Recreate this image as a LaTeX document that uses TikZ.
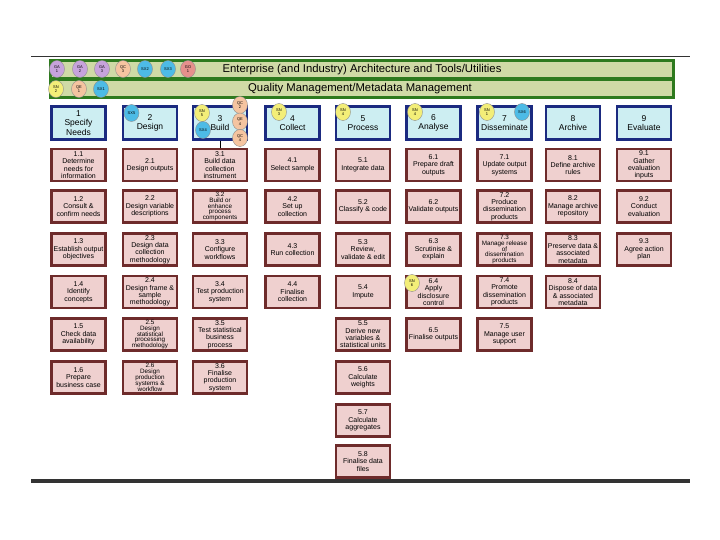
\documentclass[tikz,border=0pt]{standalone}
\usepackage{fontspec}
\setmainfont{Liberation Sans}
\usetikzlibrary{shapes.geometric}
\definecolor{barfill}{HTML}{CFDAA6}
\definecolor{bardraw}{HTML}{2E7A1E}
\definecolor{phfill}{HTML}{CDEEF2}
\definecolor{phdraw}{HTML}{1B2A80}
\definecolor{tkfill}{HTML}{EFD0CF}
\definecolor{tkdraw}{HTML}{6E2B2B}
\definecolor{gacol}{HTML}{C7A3DC}
\definecolor{qccol}{HTML}{F5C4A0}
\definecolor{sxcol}{HTML}{4DBBE6}
\definecolor{gocol}{HTML}{E6908C}
\definecolor{sncol}{HTML}{F3EE78}
\definecolor{rulecol}{HTML}{333333}
\tikzset{
  phase/.style={draw=phdraw, line width=2.5pt, fill=phfill, minimum width=54pt, minimum height=33pt,
    inner sep=0pt, align=center, font=\fontsize{8.5}{9.5}\selectfont},
  task/.style={draw=tkdraw, line width=2.5pt, fill=tkfill, minimum width=54pt, minimum height=32pt,
    inner sep=0pt, align=center, font=\fontsize{7}{7.4}\selectfont},
  tight/.style={font=\fontsize{6.3}{5.9}\selectfont},
  tag/.style={ellipse, draw=black!45, line width=0.4pt, minimum width=15pt, minimum height=17pt,
    inner sep=0pt, align=center, font=\fontsize{4}{4.4}\selectfont},
  ga/.style={tag, fill=gacol}, qc/.style={tag, fill=qccol}, sx/.style={tag, fill=sxcol},
  go/.style={tag, fill=gocol}, sn/.style={tag, fill=sncol},
  bartext/.style={font=\fontsize{11.3}{13}\selectfont, inner sep=0pt}
}
\begin{document}
\begin{tikzpicture}[x=1pt,y=-1pt]
\useasboundingbox (0,0) rectangle (720,540);
% rules
\draw[rulecol, line width=0.8pt] (31,56) -- (690,56);
\draw[rulecol, line width=4pt] (31,481) -- (690,481);
% green bars
\node[draw=bardraw, line width=3pt, fill=barfill, minimum width=623pt, minimum height=18.5pt, inner sep=0pt] (bar1) at (362,69.5) {};
\node[draw=bardraw, line width=3pt, fill=barfill, minimum width=623pt, minimum height=18.5pt, inner sep=0pt] (bar2) at (362,88.5) {};
\node[bartext] (bt1) at (362,69.5) {Enterprise (and Industry) Architecture and Tools/Utilities};
\node[bartext] (bt2) at (360,89) {Quality Management/Metadata Management};
% bar tags
\node[ga] (c1) at (57,69) {GA\\1};
\node[ga] (c2) at (80,69) {GA\\2};
\node[ga] (c3) at (102,69) {GA\\3};
\node[qc] (c4) at (123,69) {QC\\3};
\node[sx] (c5) at (145,69) {SX2};
\node[sx] (c6) at (168,69) {SX3};
\node[go] (c7) at (188,69) {GO\\1};
\node[sn] (d1) at (56,89) {SN\\2};
\node[qc] (d2) at (79,89) {QE\\1};
\node[sx] (d3) at (101,89) {SX1};
% phases
\node[phase] (h1) at (78.5,123) {1\\Specify\\Needs};
\node[phase] (h2) at (150,123) {2\\Design};
\node[phase] (h3) at (220,123) {3\\Build};
\node[phase] (h4) at (292.5,123) {4\\Collect};
\node[phase] (h5) at (363,123) {5\\Process};
\node[phase] (h6) at (433.5,123) {6\\Analyse};
\node[phase] (h7) at (504.5,123) {7\\Disseminate};
\node[phase] (h8) at (573,123) {8\\Archive};
\node[phase] (h9) at (644,123) {9\\Evaluate};
% tasks col 1
\node[task] (t11) at (78.5,165) {1.1\\Determine\\needs for\\information};
\node[task] (t12) at (78.5,206.5) {1.2\\Consult \&\\confirm needs};
\node[task] (t13) at (78.5,249.5) {1.3\\Establish output\\objectives};
\node[task] (t14) at (78.5,292) {1.4\\Identify\\concepts};
\node[task] (t15) at (78.5,334.5) {1.5\\Check data\\availability};
\node[task] (t16) at (78.5,377.5) {1.6\\Prepare\\business case};
% col 2
\node[task] (t21) at (150,165) {2.1\\Design outputs};
\node[task] (t22) at (150,206.5) {2.2\\Design variable\\descriptions};
\node[task] (t23) at (150,249.5) {2.3\\Design data\\collection\\methodology};
\node[task] (t24) at (150,292) {2.4\\Design frame \&\\sample\\methodology};
\node[task, tight] (t25) at (150,334.5) {2.5\\Design\\statistical\\processing\\methodology};
\node[task, tight] (t26) at (150,377.5) {2.6\\Design\\production\\systems \&\\workflow};
% col 3
\node[task] (t31) at (220,165) {3.1\\Build data\\collection\\instrument};
\node[task, tight] (t32) at (220,206.5) {3.2\\Build or\\enhance\\process\\components};
\node[task] (t33) at (220,249.5) {3.3\\Configure\\workflows};
\node[task] (t34) at (220,292) {3.4\\Test production\\system};
\node[task] (t35) at (220,334.5) {3.5\\Test statistical\\business\\process};
\node[task] (t36) at (220,377.5) {3.6\\Finalise\\production\\system};
% col 4
\node[task] (t41) at (292.5,165) {4.1\\Select sample};
\node[task] (t42) at (292.5,206.5) {4.2\\Set up\\collection};
\node[task] (t43) at (292.5,249.5) {4.3\\Run collection};
\node[task] (t44) at (292.5,292) {4.4\\Finalise\\collection};
% col 5
\node[task] (t51) at (363,165) {5.1\\Integrate data};
\node[task] (t52) at (363,206.5) {5.2\\Classify \& code};
\node[task] (t53) at (363,249.5) {5.3\\Review,\\validate \& edit};
\node[task] (t54) at (363,292) {5.4\\Impute};
\node[task] (t55) at (363,334.5) {5.5\\Derive new\\variables \&\\statistical units};
\node[task] (t56) at (363,377.5) {5.6\\Calculate\\weights};
\node[task] (t57) at (363,420.5) {5.7\\Calculate\\aggregates};
\node[task] (t58) at (363,461.5) {5.8\\Finalise data\\files};
% col 6
\node[task] (t61) at (433.5,165) {6.1\\Prepare draft\\outputs};
\node[task] (t62) at (433.5,206.5) {6.2\\Validate outputs};
\node[task] (t63) at (433.5,249.5) {6.3\\Scrutinise \&\\explain};
\node[task] (t64) at (433.5,292) {6.4\\Apply\\disclosure\\control};
\node[task] (t65) at (433.5,334.5) {6.5\\Finalise outputs};
% col 7
\node[task] (t71) at (504.5,165) {7.1\\Update output\\systems};
\node[task] (t72) at (504.5,206.5) {7.2\\Produce\\dissemination\\products};
\node[task, tight] (t73) at (504.5,249.5) {7.3\\Manage release\\of\\dissemination\\products};
\node[task] (t74) at (504.5,292) {7.4\\Promote\\dissemination\\products};
\node[task] (t75) at (504.5,334.5) {7.5\\Manage user\\support};
% col 8
\node[task] (t81) at (573,165) {8.1\\Define archive\\rules};
\node[task] (t82) at (573,206.5) {8.2\\Manage archive\\repository};
\node[task] (t83) at (573,249.5) {8.3\\Preserve data \&\\associated\\metadata};
\node[task] (t84) at (573,292) {8.4\\Dispose of data\\\& associated\\metadata};
% col 9
\node[task] (t91) at (644,165) {9.1\\Gather\\evaluation\\inputs};
\node[task] (t92) at (644,206.5) {9.2\\Conduct\\evaluation};
\node[task] (t93) at (644,249.5) {9.3\\Agree action\\plan};
% connector
\draw[black, line width=0.8pt] (h3.south) -- (t31.north);
% phase tags
\node[sx] (e1) at (131.5,113) {SX5};
\node[sn] (e2) at (202,113) {SN\\5};
\node[sx] (e3) at (203,130) {SX4};
\node[qc] (e4) at (240,105) {QC\\2};
\node[qc] (e5) at (240,121.5) {QE\\4};
\node[qc] (e6) at (240,138) {QC\\4};
\node[sn] (e7) at (279,112) {SN\\3};
\node[sn] (e8) at (343,112) {SN\\4};
\node[sn] (e9) at (415,112) {SN\\4};
\node[sn] (e10) at (487,112) {SN\\1};
\node[sx] (e11) at (522,112) {SX6};
\node[sn] (e12) at (412,283) {SN\\6};
\end{tikzpicture}
\end{document}
